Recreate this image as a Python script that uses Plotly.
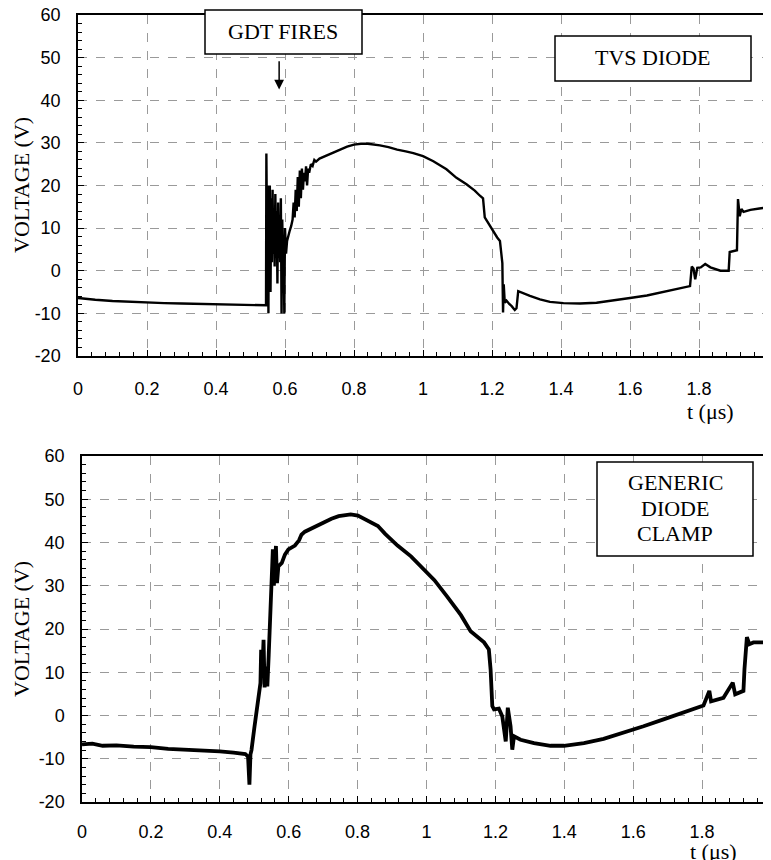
import plotly.graph_objects as go

# top trace: TVS diode clamp (time in us, voltage in V)
t_tvs = [0.000, 0.020, 0.050, 0.100, 0.150, 0.200, 0.250, 0.300, 0.350, 0.400,
         0.450, 0.500, 0.545, 0.546, 0.547, 0.548, 0.549, 0.550, 0.552, 0.553,
         0.555, 0.556, 0.558, 0.560, 0.562, 0.564, 0.566, 0.568, 0.570, 0.572,
         0.574, 0.576, 0.578, 0.580, 0.582, 0.584, 0.586, 0.588, 0.590, 0.592,
         0.594, 0.596, 0.598, 0.600, 0.603, 0.606, 0.610, 0.614, 0.618, 0.622,
         0.625, 0.628, 0.631, 0.634, 0.637, 0.640, 0.643, 0.646, 0.649, 0.652,
         0.655, 0.658, 0.661, 0.664, 0.667, 0.670, 0.675, 0.680, 0.685, 0.690,
         0.700, 0.720, 0.740, 0.760, 0.780, 0.800, 0.820, 0.840, 0.860, 0.875,
         0.900, 0.925, 0.950, 0.972, 1.000, 1.030, 1.068, 1.097, 1.126, 1.150,
         1.165, 1.174, 1.179, 1.184, 1.190, 1.196, 1.202, 1.208, 1.215, 1.223,
         1.227, 1.230, 1.232, 1.234, 1.237, 1.242, 1.250, 1.257, 1.266, 1.271,
         1.276, 1.290, 1.310, 1.339, 1.368, 1.407, 1.455, 1.503, 1.552, 1.600,
         1.649, 1.697, 1.745, 1.774, 1.779, 1.784, 1.789, 1.795, 1.805, 1.818,
         1.833, 1.862, 1.886, 1.889, 1.910, 1.913, 1.918, 1.923, 1.929, 1.949,
         1.975, 2.000]
v_tvs = [-6.4, -6.6, -6.8, -7.1, -7.3, -7.4, -7.6, -7.7, -7.8, -7.9,
         -8.0, -8.1, -8.1, 27.5, 2.0, 26.0, -2.0, 20.0, -10.0, 19.0,
         1.0, 20.0, -5.0, 17.0, 2.0, 19.0, 4.0, 12.0, 1.0, 18.0,
         3.0, 14.0, -3.0, 16.0, 3.0, 10.0, 2.0, 17.0, -10.0, 12.0,
         3.0, 8.0, -10.0, 10.0, 4.0, 7.0, 8.5, 9.5, 10.5, 12.0,
         16.0, 12.5, 19.0, 14.0, 22.0, 15.0, 23.5, 17.0, 24.0, 19.0,
         23.0, 21.0, 24.5, 20.0, 24.0, 23.0, 25.0, 24.6, 26.0, 25.6,
         26.3, 27.0, 27.8, 28.5, 29.1, 29.6, 29.8, 29.8, 29.6, 29.4,
         29.0, 28.4, 28.0, 27.6, 26.9, 25.7, 23.8, 21.8, 20.3, 18.8,
         17.6, 17.0, 12.5, 11.8, 11.0, 10.2, 9.4, 8.5, 7.8, 7.0,
         4.5, 1.8, -9.8, -3.2, -7.5, -7.0, -7.8, -8.3, -9.2, -8.8,
         -4.8, -5.3, -5.9, -6.7, -7.3, -7.6, -7.7, -7.5, -7.0, -6.4,
         -5.8, -5.0, -4.2, -3.6, 1.0, 0.5, -2.0, 0.7, 0.8, 1.6,
         0.8, 0.0, 0.0, 4.4, 4.8, 16.8, 12.8, 14.5, 13.8, 14.3,
         14.6, 14.9]

# bottom trace: generic diode clamp
t_gen = [0.000, 0.030, 0.060, 0.100, 0.150, 0.200, 0.250, 0.300, 0.350, 0.400,
         0.440, 0.474, 0.482, 0.486, 0.489, 0.492, 0.500, 0.508, 0.514, 0.518,
         0.520, 0.523, 0.527, 0.530, 0.532, 0.535, 0.538, 0.542, 0.546, 0.551,
         0.554, 0.557, 0.560, 0.563, 0.566, 0.570, 0.580, 0.589, 0.599, 0.618,
         0.630, 0.637, 0.647, 0.665, 0.686, 0.705, 0.724, 0.745, 0.763, 0.780,
         0.801, 0.830, 0.859, 0.880, 0.916, 0.955, 0.990, 1.023, 1.060, 1.100,
         1.128, 1.167, 1.181, 1.186, 1.191, 1.196, 1.210, 1.220, 1.230, 1.236,
         1.244, 1.249, 1.254, 1.273, 1.312, 1.360, 1.399, 1.457, 1.514, 1.572,
         1.630, 1.688, 1.746, 1.804, 1.821, 1.826, 1.862, 1.889, 1.896, 1.920,
         1.923, 1.930, 1.937, 1.949, 2.000]
v_gen = [-6.7, -6.5, -7.0, -6.9, -7.2, -7.3, -7.7, -7.9, -8.0, -8.3,
         -8.6, -8.9, -9.5, -16.0, -9.0, -8.0, -3.0, 1.5, 5.0, 7.5,
         15.2, 9.0, 17.5, 6.5, 8.0, 11.3, 6.7, 14.0, 22.0, 28.3,
         38.4, 30.0, 35.0, 39.2, 30.6, 34.5, 35.3, 37.2, 38.4, 39.3,
         40.5, 41.8, 42.5, 43.2, 44.2, 45.0, 45.5, 46.1, 46.4, 46.5,
         46.2, 45.0, 43.8, 42.0, 39.3, 36.8, 34.0, 31.3, 27.5, 23.2,
         19.5, 16.9, 15.3, 10.7, 2.2, 1.4, 1.6, -0.2, -6.0, 1.8,
         -2.5, -7.9, -4.8, -5.6, -6.4, -7.0, -7.0, -6.4, -5.4, -4.0,
         -2.5, -0.9, 0.6, 2.3, 5.7, 3.3, 4.1, 7.6, 4.9, 5.7,
         10.7, 18.1, 16.5, 16.9, 16.9]

# y tick labels use a plain hyphen like the original
y_ticks = [-20, -10, 0, 10, 20, 30, 40, 50, 60]
y_labels = ["-20", "-10", "0", "10", "20", "30", "40", "50", "60"]

# the page body keeps its default 8px margin, so the figure sits 8px in
OFF = 8
W, H = 771 - OFF, 860 - OFF
SANS = "Liberation Sans"
SERIF = "Liberation Serif"


def px(x, y):
    # page pixel -> paper coordinates
    return (x - OFF) / W, 1 - (y - OFF) / H


fig = go.Figure()
fig.add_trace(go.Scatter(x=t_tvs, y=v_tvs, mode="lines", xaxis="x", yaxis="y",
                         line=dict(color="black", width=2.4), showlegend=False))
fig.add_trace(go.Scatter(x=t_gen, y=v_gen, mode="lines", xaxis="x2", yaxis="y2",
                         line=dict(color="black", width=3.8), showlegend=False))


def xax(domain, standoff):
    return dict(domain=domain, range=[0, 2], dtick=0.2, tick0=0, automargin=False,
                showgrid=True, gridcolor="#9a9a9a", griddash="dash", gridwidth=1,
                zeroline=False, showline=True, linecolor="black", linewidth=1.5,
                ticks="inside", ticklen=6, tickcolor="black",
                minor=dict(dtick=0.04, ticks="inside", ticklen=4, tickcolor="black", showgrid=False),
                tickfont=dict(family=SANS, size=18, color="black"),
                ticklabelstandoff=standoff, ticklabeloverflow="allow")


def yax(domain, anchor, mirror):
    return dict(domain=domain, anchor=anchor, range=[-20, 60], automargin=False,
                tickmode="array", tickvals=y_ticks, ticktext=y_labels,
                showgrid=True, gridcolor="#9a9a9a", griddash="dash", gridwidth=1,
                zeroline=False, showline=True, linecolor="black", linewidth=1.5, mirror=mirror,
                ticks="inside", ticklen=6, tickcolor="black",
                minor=dict(dtick=2, tick0=0, ticks="inside", ticklen=4, tickcolor="black", showgrid=False),
                tickfont=dict(family=SANS, size=18, color="black"),
                ticklabelstandoff=12, ticklabeloverflow="allow")


top_x = xax([px(78, 0)[0], px(768, 0)[0]], 16)
top_x.update(anchor="y", mirror=True)
bot_x = xax([px(82, 0)[0], 1.0], 13)
bot_x.update(anchor="y2", mirror=True)

fig.update_layout(
    width=W, height=H,
    margin=dict(l=0, r=0, t=0, b=0),
    paper_bgcolor="white", plot_bgcolor="white",
    xaxis=top_x,
    yaxis=yax([px(0, 356)[1], px(0, 15)[1]], "x", True),
    xaxis2=bot_x,
    yaxis2=yax([px(0, 802)[1], px(0, 456)[1]], "x2", False),
)


def label(x, y, text, size=22, angle=0):
    xx, yy = px(x, y)
    fig.add_annotation(x=xx, y=yy, xref="paper", yref="paper", text=text, showarrow=False,
                       textangle=angle, xanchor="center", yanchor="middle",
                       font=dict(family=SERIF, size=size, color="black"))


def box(x0, y0, x1, y1):
    a0, b0 = px(x0, y0)
    a1, b1 = px(x1, y1)
    fig.add_shape(type="rect", xref="paper", yref="paper", x0=a0, y0=b1, x1=a1, y1=b0,
                  line=dict(color="black", width=1.5), fillcolor="white", layer="above")


# axis titles
label(21, 185, "VOLTAGE (V)", angle=-90)
label(21, 629, "VOLTAGE (V)", angle=-90)
label(710, 412, "t (μs)")
label(713, 851, "t (μs)")

# callout boxes
box(205, 10, 362, 54)
label(283, 32, "GDT FIRES")
box(555, 36, 751, 81)
label(653, 58, "TVS DIODE")
box(597, 462, 753, 556)
label(675, 482, "GENERIC")
label(675, 508, "DIODE")
label(675, 533, "CLAMP")

# arrow pointing at the gas discharge tube firing
fig.add_annotation(x=0.583, y=42.5, ax=0.583, ay=49.5, xref="x", yref="y", axref="x", ayref="y",
                   text="", showarrow=True, arrowhead=2, arrowsize=1.3, arrowwidth=1.5,
                   arrowcolor="black")

fig.write_html("out.html")
